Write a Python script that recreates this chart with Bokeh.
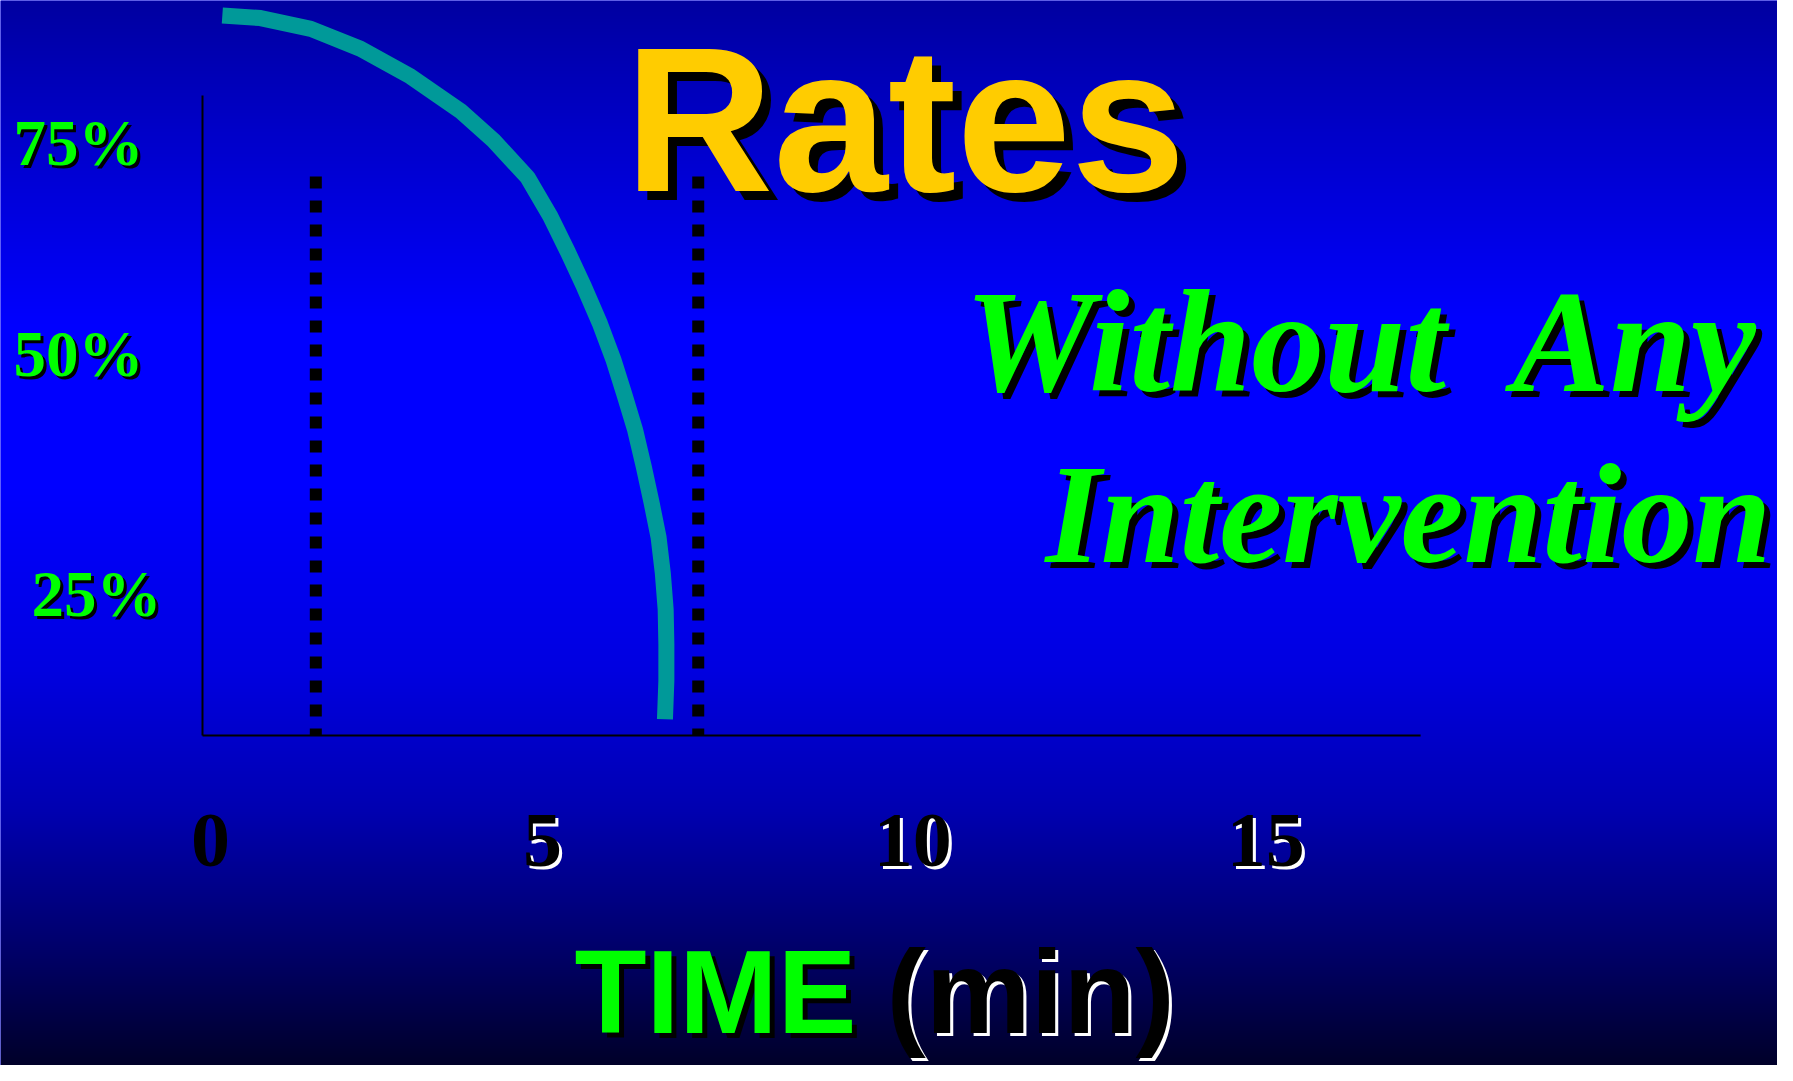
import numpy as np
from bokeh.plotting import figure
from bokeh.models import Range1d
from bokeh.core.properties import value
from bokeh.embed import file_html
from bokeh.resources import INLINE

# ---------------- data ----------------
X_TICKS = [0, 5, 10, 15]
X_TICK_LABELS = ["0", "5", "10", "15"]
Y_TICKS = [75, 50, 25]
Y_TICK_LABELS = ["75%", "50%", "25%"]

# curve (time in min, percent)
CURVE_TIME = [0.28, 0.82, 1.53, 2.23, 2.94, 3.64, 4.11, 4.59, 4.91, 5.16, 5.39, 5.61,
              5.80, 5.96, 6.11, 6.23, 6.34, 6.44, 6.50, 6.54, 6.55, 6.55, 6.53]
CURVE_PCT = [88.9, 88.6, 87.4, 85.2, 82.1, 78.3, 75.0, 70.9, 66.6, 62.6, 58.7, 54.7,
             50.7, 46.7, 42.8, 38.8, 34.8, 30.9, 26.9, 22.9, 19.0, 15.0, 10.7]

# dotted reference lines
MARKER_TIMES = [1.6, 7.0]
MARKER_TOP = 71.0

# axis extents
AXIS_TIME_END = 17.2
AXIS_PCT_TOP = 80.0
AXIS_PCT_BASE = 8.9

TITLE = "Rates"
SUB_1A = "Without"
SUB_1B = "Any"
SUB_2 = "Intervention"
XLABEL_1 = "TIME"
XLABEL_2 = "(min)"

# ---------------- layout / styles ----------------
CW, CH = 1777, 1065
X0_PX, PX_PER_MIN = 202.0, 70.82
Y0_PX, PX_PER_PCT = 815.0, 9.0
BASELINE_FIX = 0.36  # em correction for alphabetic baseline placement

X_LABEL_NUDGE_PX = [8, -14, 2, 1]
Y_LABEL_X_PX = [13, 13, 31]
Y_LABEL_NUDGE_PX = [2, -12, 3]


def tx(px):
    return (px - X0_PX) / PX_PER_MIN


def ty(py):
    return (Y0_PX - py) / PX_PER_PCT


def tb(py, size):
    return ty(py - BASELINE_FIX * size)


x_start, x_end = tx(0), tx(CW)
y_top, y_bottom = ty(0), ty(CH)

p = figure(width=CW, height=CH, output_backend="svg", toolbar_location=None,
           x_axis_type=None, y_axis_type=None,
           x_range=Range1d(x_start, x_end), y_range=Range1d(y_bottom, y_top),
           min_border=0)
p.outline_line_color = None
p.grid.visible = False
p.background_fill_color = "#0000ff"
p.border_fill_color = "#0000ff"

# background gradient
stops_f = [0.0, 0.12, 0.30, 0.45, 0.62, 0.75, 0.88, 1.0]
stops_b = [0xA0, 0xC8, 0xFF, 0xFF, 0xE0, 0xB0, 0x68, 0x20]
rows = CH
img = np.zeros((rows, 2, 4), dtype=np.uint8)
for i in range(rows):
    ref_y = (rows - 1 - i) + 0.5
    b = np.interp(ref_y / 1081.0, stops_f, stops_b)
    img[i, :, 2] = int(round(b))
    img[i, :, 3] = 255
p.image_rgba(image=[img.view(dtype=np.uint32).reshape((rows, 2))],
             x=x_start, y=y_bottom, dw=x_end - x_start, dh=y_top - y_bottom)

# axes lines
p.line([0, 0], [AXIS_PCT_TOP, AXIS_PCT_BASE], line_color="black", line_width=2)
p.line([0, AXIS_TIME_END], [AXIS_PCT_BASE, AXIS_PCT_BASE], line_color="black", line_width=2)

# dotted lines
for t in MARKER_TIMES:
    p.line([t, t], [MARKER_TOP, AXIS_PCT_BASE], line_color="black", line_width=12,
           line_dash="12 12", line_cap="butt")

# curve
p.line(CURVE_TIME, CURVE_PCT, line_color="#009999", line_width=16, line_cap="butt", line_join="round")


def stext(x, y, texts, font, size, style, color, shadow, dpx, dpy,
          align="left", baseline="alphabetic"):
    sx = [v + dpx / PX_PER_MIN for v in x]
    sy = [v - dpy / PX_PER_PCT for v in y]
    kw = dict(text_font=value(font), text_font_size="%dpx" % size, text_font_style=style,
              text_align=align, text_baseline=baseline)
    if shadow is not None:
        p.text(x=sx, y=sy, text=texts, text_color=shadow, **kw)
    p.text(x=x, y=y, text=texts, text_color=color, **kw)


# title
stext([tx(624)], [tb(194, 206)], [TITLE], "Liberation Sans", 206, "bold", "#FFCC00", "black", 9, 9)

# subtitle
stext([tx(964)], [tb(394, 146)], [SUB_1A], "Liberation Serif", 146, "bold italic", "#00FF00", "black", 6, 6)
stext([tx(1512)], [tb(394, 146)], [SUB_1B], "Liberation Serif", 146, "bold italic", "#00FF00", "black", 6, 6)
stext([tx(1045)], [tb(565, 142)], [SUB_2], "Liberation Serif", 142, "bold italic", "#00FF00", "black", 6, 6)

# y tick labels
y_lab = [v - n / PX_PER_PCT for v, n in zip(Y_TICKS, Y_LABEL_NUDGE_PX)]
stext([tx(v) for v in Y_LABEL_X_PX], y_lab, Y_TICK_LABELS, "Liberation Serif", 65, "bold",
      "#00FF00", "black", 3, 3, baseline="middle")

# x tick labels: white offset copy behind black (except "0")
XT_SIZE = 78
x_lab = [v + n / PX_PER_MIN for v, n in zip(X_TICKS, X_LABEL_NUDGE_PX)]
xs_w = [x for x, l in zip(x_lab, X_TICK_LABELS) if l != "0"]
ls_w = [l for l in X_TICK_LABELS if l != "0"]
p.text(x=[v + 3 / PX_PER_MIN for v in xs_w], y=[tb(868 + 3, XT_SIZE)] * len(xs_w), text=ls_w,
       text_color="white", text_font=value("Liberation Serif"), text_font_size="%dpx" % XT_SIZE,
       text_font_style="bold", text_align="center", text_baseline="alphabetic")
p.text(x=x_lab, y=[tb(868, XT_SIZE)] * len(x_lab), text=X_TICK_LABELS,
       text_color="black", text_font=value("Liberation Serif"), text_font_size="%dpx" % XT_SIZE,
       text_font_style="bold", text_align="center", text_baseline="alphabetic")

# x axis title
XL_SIZE = 118
XL_BASE = 1034
stext([tx(574)], [tb(XL_BASE, XL_SIZE)], [XLABEL_1], "Liberation Sans", XL_SIZE, "bold", "#00FF00", "black", 5, 5)
p.text(x=[tx(886 + 3)], y=[tb(XL_BASE + 3, XL_SIZE)], text=[XLABEL_2], text_color="white",
       text_font=value("Liberation Sans"), text_font_size="%dpx" % XL_SIZE, text_font_style="bold",
       text_align="left", text_baseline="alphabetic")
p.text(x=[tx(886)], y=[tb(XL_BASE, XL_SIZE)], text=[XLABEL_2], text_color="black",
       text_font=value("Liberation Sans"), text_font_size="%dpx" % XL_SIZE, text_font_style="bold",
       text_align="left", text_baseline="alphabetic")

open("out.html", "w").write(file_html(p, INLINE))
